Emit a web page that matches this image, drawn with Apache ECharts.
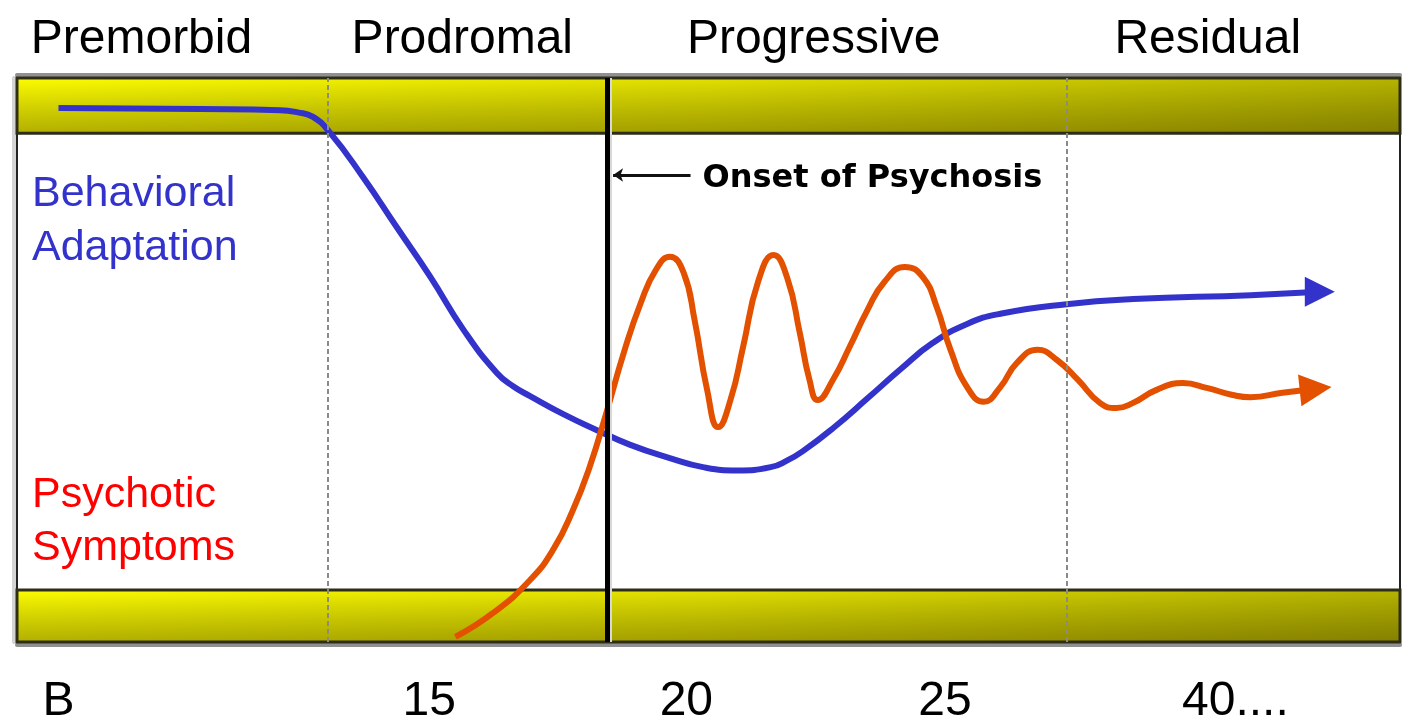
<!DOCTYPE html>
<html>
<head>
<meta charset="utf-8">
<script src="https://cdn.jsdelivr.net/npm/echarts@6/dist/echarts.min.js"></script>
<style>
  html, body { margin: 0; padding: 0; background: #fff; }
  #chart { width: 1402px; height: 721px; }
</style>
</head>
<body>
<div id="chart"></div>
<script>
// x and y both run 0..100 across the framed plot area
const phaseNames = ['Premorbid', 'Prodromal', 'Progressive', 'Residual'];
const phasePos = [9.0, 32.2, 57.6, 86.1];

const ageLabels = ['B', '15', '20', '25', '40....'];
const agePos = [3.0, 29.8, 48.4, 67.1, 88.1];

const phaseDividers = [22.5, 75.9];
const onsetX = 42.7;
const onsetArrow = { from: [48.7, 82.8], to: [43.1, 82.8], text: 'Onset of Psychosis' };

const topBand = [90.2, 100];
const bottomBand = [0, 9.2];

const behavioral = [
    [3.0, 94.7], [13.2, 94.5], [19.0, 94.3], [20.3, 93.9], [21.4, 93.1],
    [22.6, 90.4], [25.0, 82.5], [27.5, 73.4], [29.9, 64.7], [32.3, 55.3],
    [34.7, 47.7], [35.9, 45.3], [37.1, 43.6], [39.5, 40.4], [41.9, 37.6],
    [44.3, 35.0], [47.2, 32.6], [49.6, 31.0], [52.1, 30.4], [54.5, 31.0],
    [55.7, 32.2], [56.8, 33.8], [59.0, 37.9], [61.5, 43.2], [63.9, 48.4],
    [66.2, 53.0], [68.7, 56.4], [71.1, 58.2], [75.9, 59.9], [80.7, 60.8],
    [89.2, 61.5], [94.2, 62.1]
];

const psychotic = [
    [31.7, 0.9], [34.4, 5.1], [37.1, 11.0], [38.8, 16.5], [40.2, 23.4],
    [41.4, 31.0], [42.6, 40.5], [43.9, 51.5], [45.1, 60.1], [46.2, 66.0],
    [47.2, 68.3], [48.2, 65.5], [49.0, 57.0], [49.9, 44.7], [50.7, 38.1],
    [51.6, 43.0], [52.5, 52.3], [53.6, 64.0], [54.7, 68.6], [55.7, 64.5],
    [56.6, 54.8], [57.3, 46.5], [57.9, 42.9], [59.0, 46.5], [60.2, 52.3],
    [61.5, 58.9], [62.7, 63.8], [64.2, 66.5], [65.5, 64.7], [66.5, 59.4],
    [67.5, 51.8], [68.7, 45.2], [69.9, 42.6], [71.1, 45.2], [72.3, 49.5],
    [73.8, 51.8], [75.2, 50.0], [76.7, 46.5], [78.3, 42.4], [79.5, 41.5],
    [80.7, 42.4], [82.4, 44.7], [84.3, 45.9], [86.1, 45.0], [87.9, 43.8],
    [89.2, 43.4], [91.5, 44.2], [93.9, 44.9]
];

const blue = '#3333cc';
const orange = '#e25000';
const fontFamily = '"Liberation Sans", Arial, sans-serif';

// yellow bar: left-to-right darkening, plus a top-to-bottom shade on top of it
const bandBase = {
    type: 'linear', x: 0, y: 0, x2: 1, y2: 0,
    colorStops: [
        { offset: 0, color: '#ffff00' },
        { offset: 0.5, color: '#e4e200' },
        { offset: 1, color: '#b8b600' }
    ]
};
const bandShade = {
    type: 'linear', x: 0, y: 0, x2: 0, y2: 1,
    colorStops: [
        { offset: 0, color: 'rgba(0,0,0,0)' },
        { offset: 1, color: 'rgba(40,30,0,0.36)' }
    ]
};

function band(range, fill, border) {
    return [
        { yAxis: range[0], itemStyle: { color: fill, borderColor: border ? '#2e2e18' : 'transparent', borderWidth: border ? 3 : 0 } },
        { yAxis: range[1] }
    ];
}

// put an arrow head on the last point of a curve
function withArrow(points, color, size, rotate) {
    return points.map((p, i) => {
        if (i < points.length - 1) return p;
        return {
            value: p,
            symbol: 'triangle',
            symbolSize: size,
            symbolRotate: rotate,
            itemStyle: { color: color }
        };
    });
}

const chart = echarts.init(document.getElementById('chart'));

const option = {
    animation: false,
    backgroundColor: '#fff',
    title: [
        {
            text: 'Behavioral\nAdaptation',
            left: 32, top: 167, padding: 0,
            textStyle: { color: blue, fontSize: 43, lineHeight: 54, fontWeight: 'normal', fontFamily: fontFamily }
        },
        {
            text: 'Psychotic\nSymptoms',
            left: 32, top: 469, padding: 0,
            textStyle: { color: '#ff0000', fontSize: 43, lineHeight: 53, fontWeight: 'normal', fontFamily: fontFamily }
        }
    ],
    grid: {
        left: 17, right: 2, top: 78, bottom: 79,
        outerBoundsMode: 'none',
        show: true,
        borderColor: '#222',
        borderWidth: 2,
        backgroundColor: 'transparent'
    },
    xAxis: [
        {
            type: 'value', min: 0, max: 100, position: 'bottom',
            splitLine: { show: false },
            axisTick: { show: false },
            axisLine: { show: true, onZero: false, lineStyle: { color: '#909090', width: 4 } },
            offset: 3,
            axisLabel: {
                customValues: agePos,
                margin: 33,
                color: '#000', fontSize: 48, fontFamily: fontFamily,
                formatter: v => ageLabels[agePos.indexOf(v)]
            }
        },
        {
            type: 'value', min: 0, max: 100, position: 'top',
            splitLine: { show: false },
            axisTick: { show: false },
            axisLine: { show: true, onZero: false, lineStyle: { color: '#909090', width: 4 } },
            offset: 3,
            axisLabel: {
                customValues: phasePos,
                margin: 11,
                color: '#000', fontSize: 48, fontFamily: fontFamily,
                formatter: v => phaseNames[phasePos.indexOf(v)]
            }
        }
    ],
    yAxis: {
        type: 'value', min: 0, max: 100,
        splitLine: { show: false },
        axisTick: { show: false },
        axisLabel: { show: false },
        axisLine: { show: true, onZero: false, lineStyle: { color: '#d4d4d4', width: 4 } },
        offset: 3
    },
    series: [
        {
            name: 'frame',
            type: 'line',
            data: [],
            z: 1,
            markArea: {
                silent: true,
                data: [
                    band(topBand, bandBase, false),
                    band(bottomBand, bandBase, false),
                    band(topBand, bandShade, true),
                    band(bottomBand, bandShade, true)
                ]
            },
            markLine: {
                silent: true,
                symbol: 'none',
                label: { show: false },
                data: [
                    ...phaseDividers.map(x => ({
                        xAxis: x,
                        lineStyle: { color: '#8a8a8a', width: 2, type: [5, 3] }
                    })),
                    { xAxis: onsetX + 0.18, lineStyle: { color: '#d8d8d8', width: 3, type: 'solid' } },
                    { xAxis: onsetX, lineStyle: { color: '#000', width: 5, type: 'solid' } }
                ]
            }
        },
        {
            name: 'Behavioral Adaptation',
            type: 'line',
            smooth: 0.5,
            symbol: 'none',
            showSymbol: true,
            z: 3,
            lineStyle: { color: blue, width: 6 },
            itemStyle: { color: blue },
            data: withArrow(behavioral, blue, [30, 30], -90)
        },
        {
            name: 'Psychotic Symptoms',
            type: 'line',
            smooth: 0.5,
            symbol: 'none',
            showSymbol: true,
            z: 3,
            lineStyle: { color: orange, width: 6 },
            itemStyle: { color: orange },
            data: withArrow(psychotic, orange, [32, 32], -84),
            markLine: {
                silent: true,
                symbol: ['none', 'arrow'],
                symbolSize: 10,
                lineStyle: { color: '#111', width: 3, type: 'solid' },
                label: {
                    show: true,
                    position: 'start',
                    distance: 12,
                    offset: [0, 4],
                    formatter: onsetArrow.text,
                    color: '#000',
                    fontSize: 32,
                    fontWeight: 'bold',
                    fontFamily: '"DejaVu Sans", sans-serif'
                },
                data: [[{ coord: onsetArrow.from }, { coord: onsetArrow.to }]]
            }
        }
    ]
};

chart.setOption(option);
</script>
</body>
</html>
